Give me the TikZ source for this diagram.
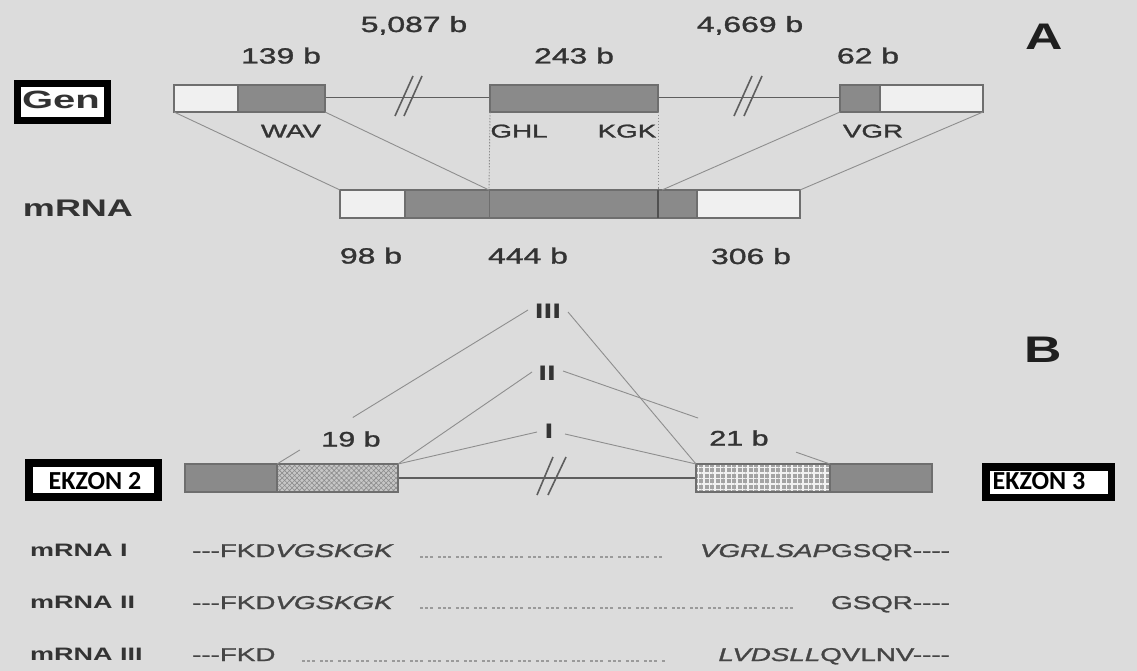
\documentclass[tikz,border=0pt]{standalone}
\usepackage{fontspec}
\setmainfont{Liberation Sans}
\newfontfamily\semib[FakeBold=1.2]{Liberation Sans}
\newfontfamily\calib{Carlito}
\usepackage{graphicx}
\usetikzlibrary{patterns,patterns.meta,calc}
\definecolor{bg}{HTML}{DCDCDC}
\definecolor{dk}{HTML}{8A8A8A}
\definecolor{edgec}{HTML}{6E6E6E}
\definecolor{lt}{HTML}{F0F0F0}
\definecolor{txt}{HTML}{333333}
\definecolor{seqc}{HTML}{454545}
\definecolor{cn}{HTML}{8E8E8E}
\definecolor{intron}{HTML}{5E5E5E}
\definecolor{dotc}{HTML}{9A9A9A}
\definecolor{hatchbg}{HTML}{C6C6C6}
\definecolor{hatchfg}{HTML}{8C8C8C}
\definecolor{gridbg}{HTML}{A4A4A4}
\definecolor{gridfg}{HTML}{F2F2F2}
\definecolor{divc}{HTML}{505050}
\newcommand{\Xs}[2][1.45]{\scalebox{#1}[1]{#2}}
\begin{document}
\begin{tikzpicture}[x=1pt,y=-1pt,
  box/.style={draw=edgec,line width=1.3pt},
  conn/.style={draw=cn,line width=0.9pt},
  dconn/.style={draw=cn,line width=0.9pt,dash pattern=on 1.5pt off 1.5pt},
  intr/.style={draw=intron,line width=1.4pt},
  slash/.style={draw=intron,line width=1.6pt},
  num/.style={inner sep=0pt,anchor=base,text=txt,font=\semib\fontsize{22}{26}\selectfont},
  tag/.style={inner sep=0pt,anchor=base,text=txt,font=\semib\fontsize{18.5}{22}\selectfont},
  big/.style={inner sep=0pt,anchor=base,text=black!88,font=\fontsize{37}{40}\selectfont\bfseries},
  roman/.style={inner sep=0pt,anchor=base,text=black!80,font=\fontsize{21}{24}\selectfont\bfseries},
  rowlbl/.style={inner sep=0pt,anchor=base west,text=txt,font=\fontsize{18}{20}\selectfont\bfseries},
  seq/.style={inner sep=0pt,text=seqc,font=\semib\fontsize{18.5}{20}\selectfont},
  dots/.style={draw=dotc,line width=1.3pt,dash pattern=on 3pt off 2pt on 3pt off 2pt on 3pt off 5pt},
  ekz/.style={draw=black,fill=white,inner sep=0pt},
  ]
\fill[bg] (0,0) rectangle (1137,671);
\useasboundingbox (0,0) rectangle (1137,671);

% ---------------- Section A: gene ----------------
\coordinate (e1r) at (325,97.5);
\coordinate (e2l) at (490,97.5);
\coordinate (e2r) at (658,97.5);
\coordinate (e3l) at (840,97.5);
\draw[intr] (e1r) -- (e2l);
\draw[intr] (e2r) -- (e3l);
\draw[slash] (395,116) -- (413,76);
\draw[slash] (404,116) -- (422,76);
\draw[slash] (734,116) -- (752,76);
\draw[slash] (744,116) -- (762,76);

\fill[lt] (174,85) rectangle (238,112);
\fill[dk] (238,85) rectangle (325,112);
\draw[box] (174,85) rectangle (325,112);
\draw[box] (238,85) -- (238,112);
\fill[dk] (490,85) rectangle (658,112);
\draw[box] (490,85) rectangle (658,112);
\fill[dk] (840,85) rectangle (880,112);
\fill[lt] (880,85) rectangle (983,112);
\draw[box] (840,85) rectangle (983,112);
\draw[box] (880,85) -- (880,112);

% mRNA
\fill[lt] (340,190) rectangle (405,218);
\fill[dk] (405,190) rectangle (697,218);
\fill[lt] (697,190) rectangle (800,218);
\draw[box] (340,190) rectangle (800,218);
\draw[box] (405,190) -- (405,218);
\draw[box] (697,190) -- (697,218);
\draw[draw=edgec,line width=0.8pt] (489,190) -- (489,218);
\draw[draw=divc,line width=2.5pt] (658,190) -- (658,218);

% connectors gene -> mRNA
\coordinate (g1) at (174,112);
\coordinate (g2) at (325,112);
\coordinate (g3) at (490,112);
\coordinate (g4) at (658,112);
\coordinate (g5) at (840,112);
\coordinate (g6) at (983,112);
\coordinate (m1) at (340,190);
\coordinate (m2) at (489,190);
\coordinate (m3) at (658,190);
\coordinate (m4) at (662,190);
\coordinate (m5) at (800,190);
\draw[conn] (g1) -- (m1);
\draw[conn] (g2) -- (m2);
\draw[dconn] (g3) -- (m2);
\draw[dconn] (g4) -- (m3);
\draw[conn] (g5) -- (m4);
\draw[conn] (g6) -- (m5);

% labels A
\node[num] (l139) at (281,63.5) {\Xs{139 b}};
\node[num] (l5087) at (414,32) {\Xs{5,087 b}};
\node[num] (l243) at (574,63.5) {\Xs{243 b}};
\node[num] (l4669) at (750,32) {\Xs{4,669 b}};
\node[num] (l62) at (868,63.5) {\Xs{62 b}};
\node[tag] (wav) at (291,137.5) {\Xs[1.5]{WAV}};
\node[tag] (ghl) at (519,137.5) {\Xs[1.5]{GHL}};
\node[tag] (kgk) at (627,137.5) {\Xs[1.5]{KGK}};
\node[tag] (vgr) at (873,137.5) {\Xs[1.5]{VGR}};
\node[num] (l98) at (371,263.5) {\Xs{98 b}};
\node[num] (l444) at (528,263.5) {\Xs{444 b}};
\node[num] (l306) at (751,264) {\Xs{306 b}};
\node[big] (A) at (1044,50) {\Xs[1.4]{A}};
\node[inner sep=0pt,anchor=base,text=txt,font=\fontsize{24}{26}\selectfont\bfseries] (mrna) at (78,216) {\Xs[1.5]{mRNA}};
\node[ekz,line width=7pt,minimum width=90pt,minimum height=37pt] (genbox) at (62.5,102) {};
\node[inner sep=0pt,text=txt,font=\fontsize{25}{27}\selectfont\bfseries] (gen) at (61,100) {\Xs[1.6]{Gen}};

% ---------------- Section B ----------------
\coordinate (i1) at (398,478);
\coordinate (i2) at (696,478);
\draw[intr] (i1) -- (i2);
\draw[slash] (537,495) -- (553,457);
\draw[slash] (548,495) -- (566,457);

\fill[dk] (185,464) rectangle (277,492);
\fill[hatchbg] (277,464) rectangle (398,492);
\fill[pattern={Hatch[angle=45,distance=3.5pt,line width=0.6pt]},pattern color=hatchfg] (277,464) rectangle (398,492);
\draw[box] (185,464) rectangle (398,492);
\draw[box] (277,464) -- (277,492);

\fill[gridbg] (696,464) rectangle (830,492);
\fill[pattern={Hatch[angle=0,distance=5.5pt,line width=1.2pt]},pattern color=gridfg] (696,464) rectangle (830,492);
\fill[dk] (830,464) rectangle (932,492);
\draw[box] (696,464) rectangle (932,492);
\draw[box] (830,464) -- (830,492);

\node[roman] (III) at (548,318.5) {\Xs[1.5]{III}};
\node[roman] (II) at (547,380.5) {\Xs[1.5]{II}};
\node[roman] (I) at (549,438.5) {\Xs[1.5]{I}};
\node[big] (B) at (1043,362) {\Xs[1.4]{B}};
\node[inner sep=0pt,anchor=base,text=txt,font=\semib\fontsize{21}{24}\selectfont] (l19) at (351,446.5) {\Xs{19 b}};
\node[inner sep=0pt,anchor=base,text=txt,font=\semib\fontsize{21}{24}\selectfont] (l21) at (739,445.5) {\Xs{21 b}};

\coordinate (IIIl) at (528,310);
\coordinate (IIIr) at (568,312);
\coordinate (IIl) at (532,372);
\coordinate (IIr) at (563,371);
\coordinate (Il) at (537,432);
\coordinate (Ir) at (565,434);
\coordinate (c19) at (277,464);
\coordinate (l2r) at (398,464);
\coordinate (r3l) at (696,464);
\coordinate (c21) at (830,464);
\draw[conn] (IIIl) -- ($(IIIl)!0.698!(c19)$);
\draw[conn] ($(IIIl)!0.909!(c19)$) -- (c19);
\draw[conn] (IIIr) -- (r3l);
\draw[conn] (IIl) -- (l2r);
\draw[conn] (IIr) -- ($(IIr)!0.506!(c21)$);
\draw[conn] ($(IIr)!0.873!(c21)$) -- (c21);
\draw[conn] (Il) -- (l2r);
\draw[conn] (Ir) -- (r3l);

\node[ekz,line width=8pt,minimum width=129pt,minimum height=34pt] (ek2) at (93.5,480) {};
\node[inner sep=0pt,font=\calib\fontsize{26}{28}\selectfont\bfseries] (ek2t) at (95,481) {EKZON 2};
\node[ekz,line width=7.5pt,minimum width=125.5pt,minimum height=30.5pt] (ek3) at (1048.5,482) {};
\node[inner sep=0pt,font=\calib\fontsize{26}{28}\selectfont\bfseries] (ek3t) at (1039,481) {EKZON 3};

% sequence rows
\node[rowlbl] (r1) at (30,556.5) {\Xs[1.5]{mRNA I}};
\node[rowlbl] (r2) at (30,608.5) {\Xs[1.5]{mRNA II}};
\node[rowlbl] (r3) at (30,660.5) {\Xs[1.5]{mRNA III}};
\node[seq,anchor=base west] (s1l) at (192,557) {\Xs[1.5]{-{}-{}-FKD\textit{VGSKGK}}};
\node[seq,anchor=base west] (s2l) at (192,609) {\Xs[1.5]{-{}-{}-FKD\textit{VGSKGK}}};
\node[seq,anchor=base west] (s3l) at (192,661) {\Xs[1.5]{-{}-{}-FKD}};
\node[seq,anchor=base east] (s1r) at (950,557) {\Xs[1.5]{\textit{VGRLSAP}GSQR-{}-{}-{}-}};
\node[seq,anchor=base east] (s2r) at (950,609) {\Xs[1.5]{GSQR-{}-{}-{}-}};
\node[seq,anchor=base east] (s3r) at (950,661) {\Xs[1.5]{\textit{LVDSLL}QVLNV-{}-{}-{}-}};
\coordinate (d1a) at (420,557);
\coordinate (d1b) at (663,557);
\coordinate (d2a) at (420,608);
\coordinate (d2b) at (797,608);
\coordinate (d3a) at (302,661);
\coordinate (d3b) at (665,661);
\draw[dots] (d1a) -- (d1b);
\draw[dots] (d2a) -- (d2b);
\draw[dots] (d3a) -- (d3b);
\end{tikzpicture}
\end{document}
